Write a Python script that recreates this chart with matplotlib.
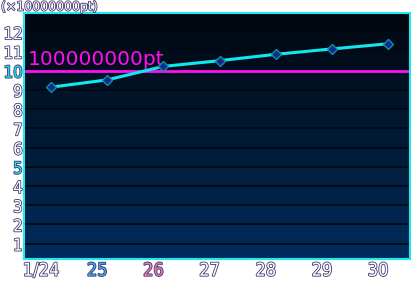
import numpy as np
import matplotlib.pyplot as plt
import matplotlib.patheffects as pe
from matplotlib.transforms import ScaledTranslation
from matplotlib.colors import to_rgb

days = ["1/24", "25", "26", "27", "28", "29", "30"]
day_colors = ["white", "#3aa8e8", "#e878b0", "white", "white", "white", "white"]
points = [9.14, 9.52, 10.22, 10.52, 10.85, 11.13, 11.40]  # x 10000000pt
border = 10
yticks = list(range(1, 13))

fig = plt.figure(figsize=(4.11, 2.81), dpi=100)
fig.patch.set_facecolor("white")
ax = fig.add_axes([24 / 411, 22 / 281, 386 / 411, 246 / 281])

ymin, ymax = 0.2, 13.0
ax.set_xlim(-0.48, 6.39)
ax.set_ylim(ymin, ymax)

# banded gradient background
top = np.array(to_rgb("#01060d"))
bot = np.array(to_rgb("#002c5c"))
edges = [ymin] + list(range(1, 13)) + [ymax]
for lo, hi in zip(edges[:-1], edges[1:]):
    t = ((lo + hi) / 2 - ymin) / (ymax - ymin)
    ax.axhspan(lo, hi, color=bot + (top - bot) * t, lw=0, zorder=0)
for v in yticks:
    ax.axhline(v, color="#020a14", lw=1.3, zorder=1)

ax.axhline(border, color="#ff10f0", lw=2, zorder=2)
ax.text(-0.42, border + 0.08, "100000000pt", color="#ff10f0", fontsize=14.5,
        va="bottom", ha="left", zorder=3)

x = np.arange(len(points))
ax.plot(x, points, color="#10e8f0", lw=2.2, zorder=4)
ax.plot(x, points, ls="none", marker="D", ms=5.5, mfc="#102a90",
        mec="#1090a0", mew=1, zorder=5)

for s in ax.spines.values():
    s.set_color("#20e8f0")
    s.set_linewidth(1.5)

outline = [pe.withStroke(linewidth=1.2, foreground="#403870")]

ax.set_xticks(x)
ax.set_xticklabels(days, fontsize=13, fontstretch="condensed")
ax.tick_params(axis="x", length=0, pad=2)
ax.tick_params(axis="y", length=0, pad=1)
off = ScaledTranslation(-10 / 100, 0, fig.dpi_scale_trans)
for lab, c in zip(ax.get_xticklabels(), day_colors):
    lab.set_color(c)
    lab.set_path_effects(outline)
    lab.set_transform(lab.get_transform() + off)

ax.set_yticks(yticks)
ax.set_yticklabels([str(v) for v in yticks], fontsize=12, fontstretch="condensed")
for lab, v in zip(ax.get_yticklabels(), yticks):
    lab.set_color("#20e0e8" if v in (5, 10) else "white")
    lab.set_path_effects(outline)

fig.text(1 / 411, 1 - 0.5 / 281, "(×10000000pt)", fontsize=9, color="white",
         va="top", ha="left", path_effects=outline)

fig.savefig("out.png", dpi=100)
